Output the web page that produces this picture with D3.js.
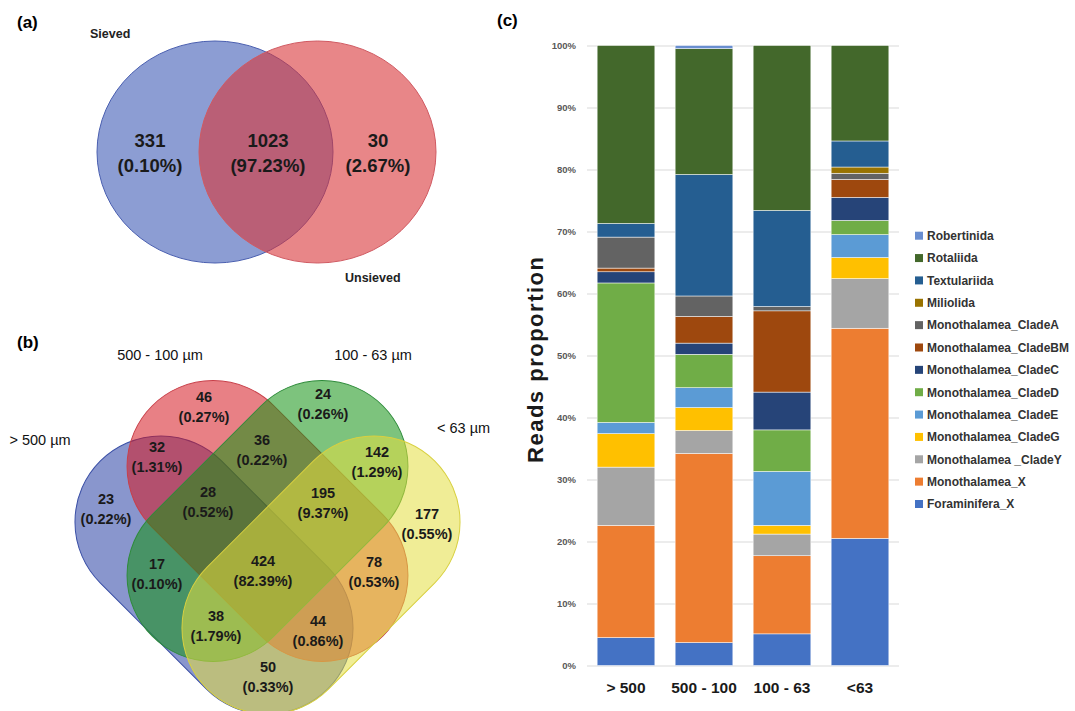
<!DOCTYPE html>
<html>
<head>
<meta charset="utf-8">
<script src="https://cdn.jsdelivr.net/npm/d3@7"></script>
<style>
  body { margin: 0; background: #fff; }
  text { font-family: "Liberation Sans", Arial, sans-serif; }
</style>
</head>
<body>
<svg id="fig"></svg>
<script>
// ---------- data ----------
// (c) stacked bars, percent of reads per size fraction
const sizeClasses = ['> 500', '500 - 100', '100 - 63', '<63'];
const taxa = ['Foraminifera_X', 'Monothalamea_X', 'Monothalamea _CladeY', 'Monothalamea_CladeG',
  'Monothalamea_CladeE', 'Monothalamea_CladeD', 'Monothalamea_CladeC', 'Monothalamea_CladeBM',
  'Monothalamea_CladeA', 'Miliolida', 'Textulariida', 'Rotaliida', 'Robertinida'];
const foraminiferaX = [4.5, 3.7, 5.1, 20.5];
const monothalameaX = [18.1, 30.5, 12.6, 33.9];
const cladeY = [9.4, 3.7, 3.5, 8.0];
const cladeG = [5.4, 3.7, 1.4, 3.4];
const cladeE = [1.8, 3.2, 8.7, 3.7];
const cladeD = [22.5, 5.4, 6.7, 2.3];
const cladeC = [1.8, 1.8, 6.1, 3.7];
const cladeBM = [0.6, 4.3, 13.1, 2.9];
const cladeA = [5.0, 3.3, 0.7, 1.0];
const miliolida = [0, 0, 0, 1.0];
const textulariida = [2.2, 19.6, 15.5, 4.2];
const rotaliida = [28.7, 20.3, 26.6, 15.4];
const robertinida = [0, 0.5, 0, 0];
const yTicks = [0, 10, 20, 30, 40, 50, 60, 70, 80, 90, 100];

// (a) two-set venn
const vennASets = ['Sieved', 'Unsieved'];
const vennACounts = [331, 1023, 30];
const vennAPercents = ['0.10%', '97.23%', '2.67%'];

// (b) four-set venn
const vennBSets = ['> 500 µm', '500 - 100 µm', '100 - 63 µm', '< 63 µm'];
const vennBCounts = [46, 24, 32, 36, 142, 23, 28, 195, 177, 17, 424, 78, 38, 44, 50];
const vennBPercents = ['0.27%', '0.26%', '1.31%', '0.22%', '1.29%', '0.22%', '0.52%', '9.37%',
  '0.55%', '0.10%', '82.39%', '0.53%', '1.79%', '0.86%', '0.33%'];

// ---------- setup ----------
const width = 1075, height = 711;
const svg = d3.select('#fig').attr('width', width).attr('height', height);

const taxaColors = ['#4472C4', '#ED7D31', '#A5A5A5', '#FFC000', '#5B9BD5', '#70AD47', '#264478',
  '#9E480E', '#636363', '#997300', '#255E91', '#43682B', '#698ED0'];
const series = [foraminiferaX, monothalameaX, cladeY, cladeG, cladeE, cladeD, cladeC, cladeBM,
  cladeA, miliolida, textulariida, rotaliida, robertinida];

// ---------- (a) ----------
const a = svg.append('g');
a.append('text').attr('x', 17).attr('y', 28).attr('font-size', 17).attr('font-weight', 'bold').text('(a)');

const ellA = [
  {cx: 215, cy: 152, rx: 118, ry: 111, fill: '#3f5bb5', stroke: '#4a5fb0'},
  {cx: 317.5, cy: 152, rx: 118.5, ry: 111, fill: '#d93539', stroke: '#d05a62'}
];
a.selectAll('ellipse').data(ellA).enter().append('ellipse')
  .attr('cx', d => d.cx).attr('cy', d => d.cy)
  .attr('rx', d => d.rx).attr('ry', d => d.ry)
  .attr('fill', d => d.fill).attr('fill-opacity', 0.6)
  .attr('stroke', d => d.stroke).attr('stroke-width', 1);

a.selectAll('.setlab').data(vennASets).enter().append('text')
  .attr('x', (d, i) => i ? 345 : 90).attr('y', (d, i) => i ? 282 : 38)
  .attr('font-size', 12.5).attr('font-weight', 'bold').attr('fill', '#222')
  .text(d => d);

const aLabX = [150, 268, 378];
aLabX.forEach((xx, i) => {
  const t = a.append('text').attr('text-anchor', 'middle').attr('font-size', 18.5)
    .attr('font-weight', 'bold').attr('fill', '#1a1a1a');
  t.append('tspan').attr('x', xx).attr('y', 147).text(vennACounts[i]);
  t.append('tspan').attr('x', xx).attr('y', 172).text('(' + vennAPercents[i] + ')');
});

// ---------- (b) ----------
const b = svg.append('g');
b.append('text').attr('x', 17).attr('y', 348).attr('font-size', 17).attr('font-weight', 'bold').text('(b)');

// rotated pill shapes: half length h of the core, end radius r
const capR = 86;
const shapes = [
  {cx: 214, cy: 575, h: 75, ang: 45, fill: '#2840a4', stroke: '#3a4fa6'},
  {cx: 267.5, cy: 521, h: 77, ang: 45, fill: '#d51821', stroke: '#c8404a'},
  {cx: 267.5, cy: 521, h: 77, ang: -45, fill: '#139213', stroke: '#2e8b3a'},
  {cx: 321, cy: 575, h: 75, ang: -45, fill: '#e4de40', stroke: '#d8d040'}
];
b.selectAll('rect').data(shapes).enter().append('rect')
  .attr('x', d => -(d.h + capR)).attr('y', -capR)
  .attr('width', d => 2 * (d.h + capR)).attr('height', 2 * capR)
  .attr('rx', capR).attr('ry', capR)
  .attr('transform', d => `translate(${d.cx},${d.cy}) rotate(${d.ang})`)
  .attr('fill', d => d.fill).attr('fill-opacity', 0.55)
  .attr('stroke', d => d.stroke).attr('stroke-width', 1);

const setLabPos = [[40, 445, 'middle'], [160, 360, 'middle'], [373, 360, 'middle'], [437, 433, 'start']];
b.selectAll('.setlab').data(vennBSets).enter().append('text')
  .attr('x', (d, i) => setLabPos[i][0]).attr('y', (d, i) => setLabPos[i][1])
  .attr('text-anchor', (d, i) => setLabPos[i][2])
  .attr('font-size', 14.5).attr('fill', '#111').text(d => d);

const regionPos = [[204, 397], [323, 394], [157, 447], [262, 440], [377, 452], [106, 499],
  [208, 492], [323, 493], [427, 514], [157, 564], [263, 561], [374, 562], [216, 616],
  [318, 621], [268, 667]];
regionPos.forEach((p, i) => {
  const t = b.append('text').attr('text-anchor', 'middle').attr('font-size', 14.5)
    .attr('font-weight', 'bold').attr('fill', '#1a1a1a');
  t.append('tspan').attr('x', p[0]).attr('y', p[1] + 5).text(vennBCounts[i]);
  t.append('tspan').attr('x', p[0]).attr('y', p[1] + 25).text('(' + vennBPercents[i] + ')');
});

// ---------- (c) ----------
const c = svg.append('g');
c.append('text').attr('x', 497).attr('y', 26).attr('font-size', 17).attr('font-weight', 'bold').text('(c)');

const xScale = d3.scaleBand().domain(sizeClasses).range([587, 899]).paddingInner(0.26).paddingOuter(0.13);
const yScale = d3.scaleLinear().domain([0, 100]).range([665.5, 45.5]);

const grid = c.append('g').attr('transform', 'translate(587,0)')
  .call(d3.axisLeft(yScale).tickValues(yTicks).tickSize(-312).tickFormat(d => d + '%'));
grid.select('.domain').remove();
grid.selectAll('line').attr('stroke', '#d9d9d9');
grid.selectAll('text').attr('x', -11).attr('font-size', 9.5).attr('font-weight', 'bold')
  .attr('fill', '#595959').style('font-family', '"Liberation Sans", Arial, sans-serif');

const table = sizeClasses.map((s, j) => {
  const row = {cls: s};
  taxa.forEach((t, k) => { row[t] = series[k][j]; });
  return row;
});
const stacked = d3.stack().keys(taxa)(table);

c.selectAll('.layer').data(stacked).enter().append('g')
  .attr('fill', (d, i) => taxaColors[i])
  .selectAll('rect').data(d => d).enter().append('rect')
  .attr('x', d => xScale(d.data.cls))
  .attr('y', d => yScale(d[1]))
  .attr('width', xScale.bandwidth())
  .attr('height', d => yScale(d[0]) - yScale(d[1]))
  .attr('stroke', '#fff').attr('stroke-width', 0.5);

const xAxis = c.append('g').attr('transform', 'translate(0,665.5)')
  .call(d3.axisBottom(xScale).tickSize(0).tickPadding(16));
xAxis.select('.domain').remove();
xAxis.selectAll('text').attr('font-size', 15.5).attr('font-weight', 'bold').attr('fill', '#1a1a1a')
  .style('font-family', '"Liberation Sans", Arial, sans-serif');

c.append('text').attr('transform', 'translate(543,360) rotate(-90)')
  .attr('text-anchor', 'middle').attr('font-size', 22).attr('font-weight', 'bold')
  .attr('textLength', 206).attr('lengthAdjust', 'spacing')
  .attr('fill', '#1a1a1a').text('Reads proportion');

// legend, top to bottom reversed from stack order
const legendItems = taxa.map((t, i) => ({name: t, color: taxaColors[i]})).reverse();
const legend = c.append('g');
const ly = d3.scalePoint().domain(legendItems.map(d => d.name)).range([235.7, 504]);
legend.selectAll('rect').data(legendItems).enter().append('rect')
  .attr('x', 915).attr('y', d => ly(d.name) - 4).attr('width', 8).attr('height', 8)
  .attr('fill', d => d.color);
legend.selectAll('text').data(legendItems).enter().append('text')
  .attr('x', 927).attr('y', d => ly(d.name) + 4.3)
  .attr('font-size', 12).attr('font-weight', 'bold').attr('fill', '#333')
  .text(d => d.name);
</script>
</body>
</html>
